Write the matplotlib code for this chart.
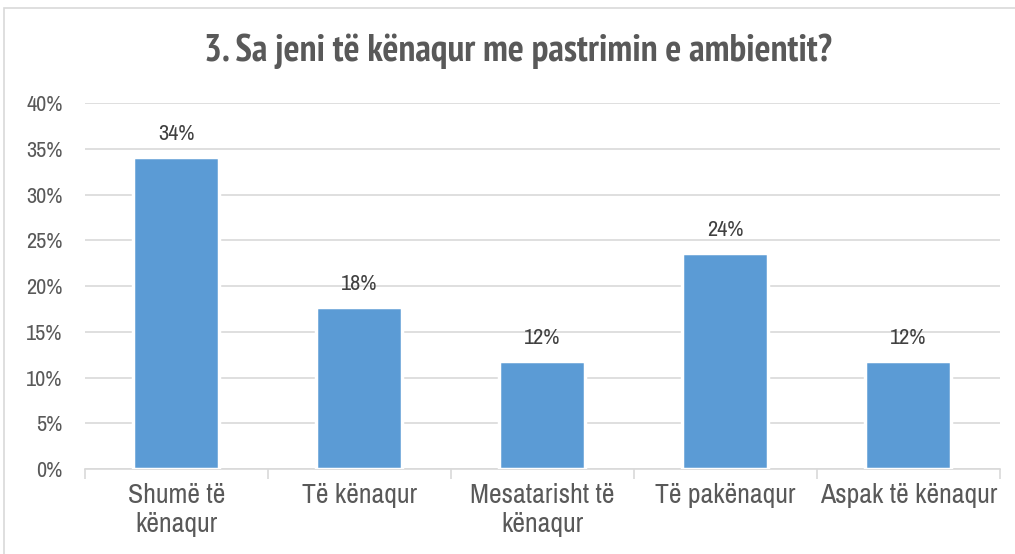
import matplotlib.pyplot as plt
import matplotlib.patches as mpatches
import numpy as np
from matplotlib.ticker import FuncFormatter

plt.rcParams['font.family'] = ['Archivo Narrow', 'Liberation Sans', 'DejaVu Sans']

categories = ['Shumë të\nkënaqur', 'Të kënaqur', 'Mesatarisht të\nkënaqur',
              'Të pakënaqur', 'Aspak të kënaqur']
values = [34.1, 17.7, 11.8, 23.6, 11.8]
value_labels = ['34%', '18%', '12%', '24%', '12%']
yticks = [0, 5, 10, 15, 20, 25, 30, 35, 40]

fig = plt.figure(figsize=(10.15, 5.54), dpi=100)
ax = fig.add_axes([0.0837, 0.1534, 0.9015, 0.6606])

# cadre extérieur gris clair
fig.patches.append(mpatches.Rectangle((0.004, -0.05), 1.1, 1.036, transform=fig.transFigure,
                                      fill=False, edgecolor='#d9d9d9', linewidth=1.2))

x = np.arange(len(categories))
ax.bar(x, values, width=0.47, color='#5b9bd5', edgecolor='white', linewidth=2.5, zorder=3)

for xi, v, lab in zip(x, values, value_labels):
    ax.text(xi, v + 1.4, lab, ha='center', va='bottom', fontsize=16, color='#404040')

ax.set_xlim(-0.5, len(categories) - 0.5)
ax.set_ylim(0, 40)
ax.set_yticks(yticks)
ax.yaxis.set_major_formatter(FuncFormatter(lambda v, p: f'{v:.0f}%'))
ax.grid(True, axis='y', color='#d9d9d9', linewidth=1.2, zorder=0)

ax.set_xticks(x)
ax.set_xticklabels(categories, fontsize=20, color='#595959', linespacing=1.2)
ax.set_xticks(np.arange(-0.5, len(categories)), minor=True)
ax.tick_params(axis='x', which='major', length=0, pad=10)
ax.tick_params(axis='x', which='minor', length=7, color='#d9d9d9', width=1.2)
ax.tick_params(axis='y', length=0, labelsize=16, labelcolor='#595959', pad=16)

for s in ['top', 'right', 'left']:
    ax.spines[s].set_visible(False)
ax.spines['bottom'].set_color('#d9d9d9')
ax.spines['bottom'].set_linewidth(1.2)

fig.text(0.51, 0.907, '3. Sa jeni të kënaqur me pastrimin e ambientit?',
         ha='center', va='center', fontsize=27, fontweight='bold', color='#595959',
         family=['PT Sans Narrow', 'Archivo Narrow'])

plt.savefig('out.png', dpi=100)
